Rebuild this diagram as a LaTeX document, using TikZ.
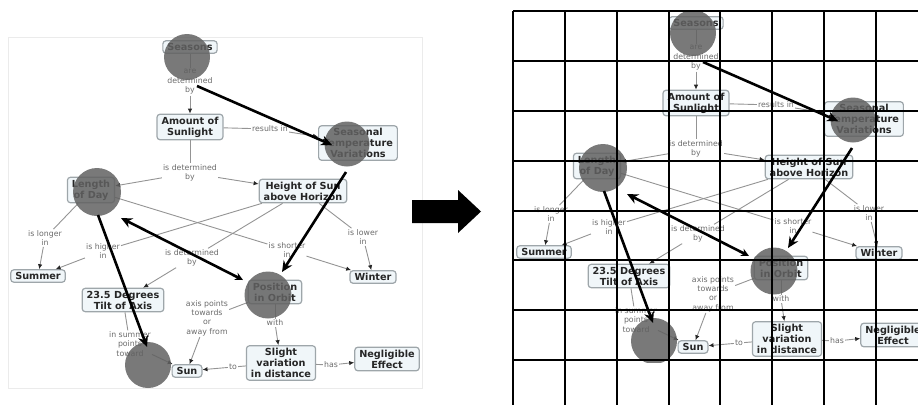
\documentclass[tikz,border=0pt]{standalone}
\usepackage{fontspec}
\setmainfont{DejaVu Sans}
\usetikzlibrary{arrows.meta, calc}

\definecolor{conceptfill}{RGB}{240,246,249}
\definecolor{conceptline}{RGB}{158,166,170}

\tikzset{
    concept/.style={rectangle, rounded corners=3pt, draw=conceptline, fill=conceptfill, line width=1.2pt,
        align=center, text=black!85, font=\bfseries\fontsize{9.7}{11}\selectfont, inner xsep=4.5pt, inner ysep=2.5pt},
    linklbl/.style={align=center, text=black!58, font=\fontsize{7.8}{9.4}\selectfont, inner sep=1pt},
    link/.style={draw=black!42, line width=0.9pt},
    linkarr/.style={link, -{Latex[length=5pt, width=4.5pt, color=black!85]}},
    spot/.style={circle, fill=black!62, fill opacity=0.85, inner sep=0pt},
    bigarrow/.style={line width=2.6pt, -{Stealth[length=11pt, width=10pt]}},
    gridline/.style={line width=1.7pt}
}

% the concept map, drawn once per panel
\newcommand\seasonsmap{%
    % Concepts
    \node[concept] (seasons) at (190,47) {Seasons};
    \node[concept] (sunlight) at (190,127) {Amount of\\Sunlight};
    \node[concept] (seasonal) at (358,143) {Seasonal\\Temperature\\Variations};
    \node[concept] (length) at (91,190) {Length\\of Day};
    \node[concept] (height) at (303,191) {Height of Sun\\above Horizon};
    \node[concept] (summer) at (38,276) {Summer};
    \node[concept] (winter) at (373,277) {Winter};
    \node[concept] (tilt) at (123,300) {23.5 Degrees\\Tilt of Axis};
    \node[concept] (orbit) at (275,292) {Position\\in Orbit};
    \node[concept] (slight) at (281,363) {Slight\\variation\\in distance};
    \node[concept] (sun) at (187,371) {Sun};
    \node[concept] (effect) at (387,359) {Negligible\\Effect};

    % Linking phrases
    \node[linklbl] (areby) at (190,82) {are\\determined\\by};
    \node[linklbl] (results) at (270,129) {results in};
    \node[linklbl] (detlen) at (190,173) {is determined\\by};
    \node[linklbl] (longer) at (45,238) {is longer\\in};
    \node[linklbl] (higher) at (103,251) {is higher\\in};
    \node[linklbl] (dettilt) at (192,258) {is determined\\by};
    \node[linklbl] (shorter) at (287,250) {is shorter\\in};
    \node[linklbl] (lower) at (363,237) {is lower\\in};
    \node[linklbl] (toward) at (130,344) {in summer\\points\\toward};
    \node[linklbl] (axis) at (207,318) {axis points\\towards\\or\\away from};
    \node[linklbl] (with) at (275,323) {with};
    \node[linklbl] (to) at (233,367) {to};
    \node[linklbl] (has) at (331,365) {has};

    % Links
    \draw[link] (seasons) -- (areby);
    \draw[linkarr] (areby) -- (sunlight);
    \draw[link] (sunlight) -- (results);
    \draw[linkarr] (results) -- (seasonal);
    \draw[link] (sunlight) -- (detlen);
    \draw[linkarr] (detlen) -- (length);
    \draw[linkarr] (detlen) -- (height);
    \draw[link] (length) -- (longer);
    \draw[linkarr] (longer) -- (summer);
    \draw[link] (height) -- (higher);
    \draw[linkarr] (higher) -- (summer);
    \draw[link] (height) -- (dettilt);
    \draw[linkarr] (dettilt) -- (tilt);
    \draw[link] (length) -- (shorter);
    \draw[linkarr] (shorter) -- (winter);
    \draw[link] (height) -- (lower);
    \draw[linkarr] (lower) -- (winter);
    \draw[link] (tilt) -- (toward);
    \draw[linkarr] (toward) -- (sun);
    \draw[link] (orbit) -- (axis);
    \draw[linkarr] (axis) -- (sun);
    \draw[link] (orbit) -- (with);
    \draw[linkarr] (with) -- (slight);
    \draw[link] (slight) -- (to);
    \draw[linkarr] (to) -- (sun);
    \draw[link] (slight) -- (has);
    \draw[linkarr] (has) -- (effect);

    % Marked spots
    \node[spot, minimum size=46pt] (cseasons) at (187,57) {};
    \node[spot, minimum size=45pt] (cseasonal) at (347,144) {};
    \node[spot, minimum size=48pt] (clength) at (97,192) {};
    \node[spot, minimum size=47pt] (corbit) at (268,295) {};
    \node[spot, minimum size=46pt] (csun) at (148,365) {};

    % Path between the spots
    \draw[bigarrow] ($(cseasons)+(10,29)$) -- ($(cseasonal)+(-15,1)$);
    \draw[bigarrow] ($(cseasonal)+(-1,28)$) -- ($(corbit)+(14,-23)$);
    \draw[bigarrow, {Stealth[length=8pt, width=8pt]}-{Stealth[length=11pt, width=10pt]}]
        ($(corbit)+(-25,-15)$) -- ($(clength)+(24,26)$);
    \draw[bigarrow] ($(clength)+(1,23)$) -- ($(csun)+(-1,-18)$);
}

\begin{document}
\begin{tikzpicture}[x=1pt, y=-1pt]
    \useasboundingbox (0,0) rectangle (918,405);

    % Left panel
    \draw[black!8, line width=0.8pt] (8,37) rectangle (422,388);
    \begin{scope}[name prefix=L-]
        \seasonsmap
    \end{scope}

    % Big arrow between the panels
    \fill (412,200) -- (458,200) -- (458,190) -- (481,211.5) -- (458,233) -- (458,223) -- (412,223) -- cycle;

    % Right panel
    \begin{scope}
        \clip (513,11) rectangle (918,362);
        \begin{scope}[shift={(506,-24)}, name prefix=R-]
            \seasonsmap
        \end{scope}
    \end{scope}

    % Grid over the right panel
    \foreach \gx in {513,565,617,669,720,772,824,876}
        \draw[gridline] (\gx,11) -- (\gx,405);
    \foreach \gy in {11,61,111,161,211,260,310,360}
        \draw[gridline] (513,\gy) -- (918,\gy);
\end{tikzpicture}
\end{document}
